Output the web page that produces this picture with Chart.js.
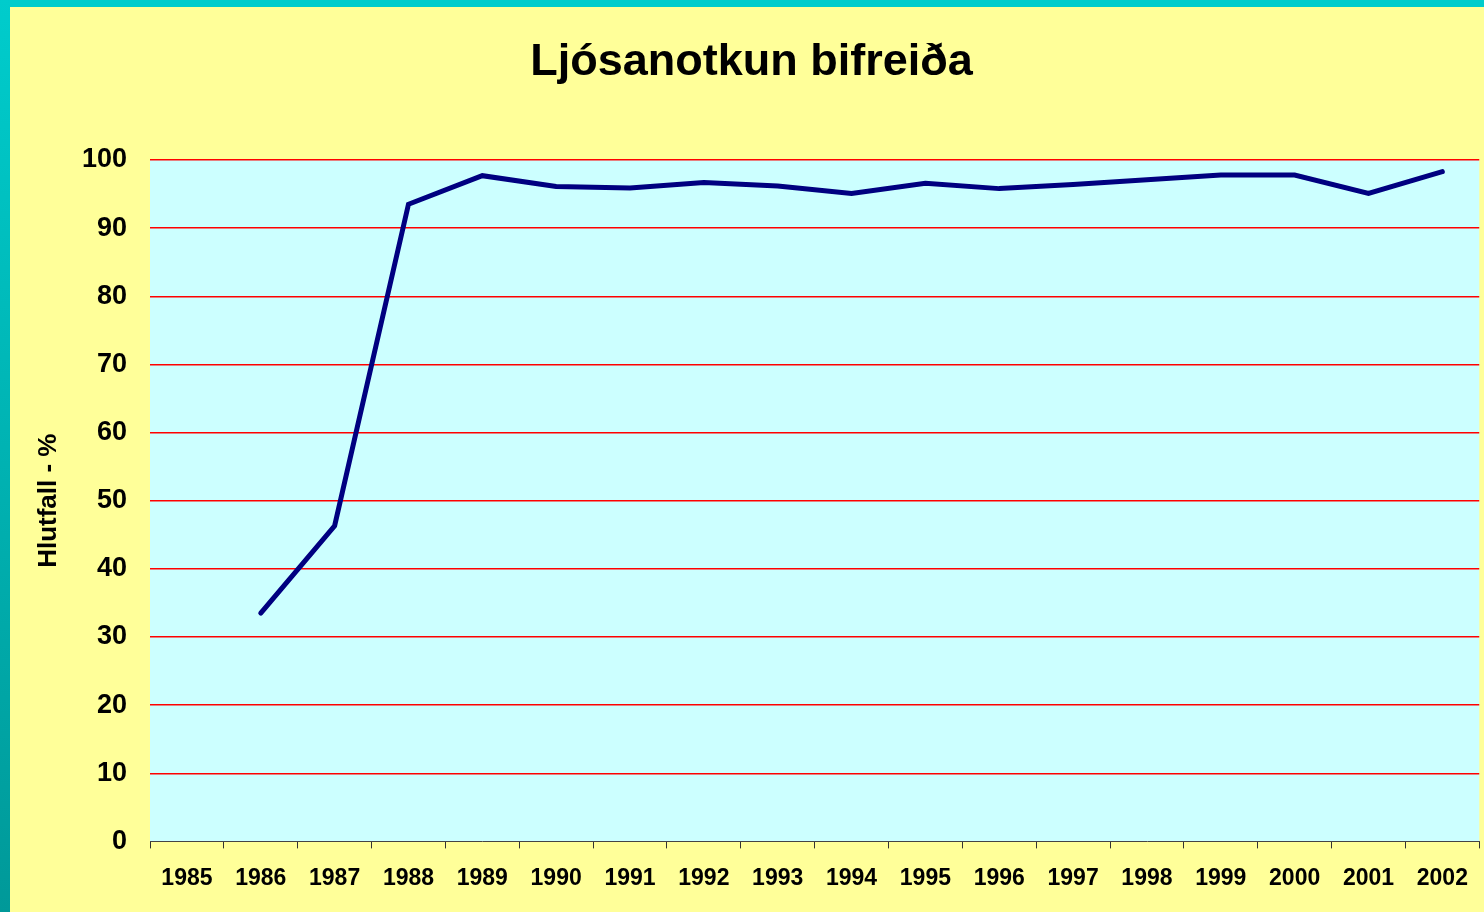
<!DOCTYPE html>
<html>
<head>
<meta charset="utf-8">
<script src="https://cdn.jsdelivr.net/npm/chart.js@4/dist/chart.umd.min.js"></script>
<style>
  html, body { margin: 0; padding: 0; overflow: hidden; }
  #wrap { position: relative; width: 1484px; height: 912px; background: #FFFF99; }
  #topStrip { position: absolute; left: 0; top: 0; width: 1484px; height: 7px; background: #00CCCC; }
  #leftStrip { position: absolute; left: 0; top: 0; width: 10px; height: 912px; background: linear-gradient(#00CCCC, #009999); }
  #c { position: absolute; left: 0; top: 0; }
</style>
</head>
<body>
<div id="wrap">
  <div id="topStrip"></div>
  <div id="leftStrip"></div>
  <canvas id="c" width="1484" height="912"></canvas>
</div>
<script>
const titleText = 'Ljósanotkun bifreiða';
const yAxisTitle = 'Hlutfall - %';
const years = ['1985','1986','1987','1988','1989','1990','1991','1992','1993','1994','1995','1996','1997','1998','1999','2000','2001','2002'];
const shares = [null, 33.5, 46.3, 93.5, 97.7, 96.1, 95.9, 96.7, 96.2, 95.1, 96.6, 95.8, 96.4, 97.1, 97.8, 97.8, 95.1, 98.3];

const FONT = "'Liberation Sans', Arial, sans-serif";

const plotBg = {
  id: 'plotBg',
  beforeDraw(chart) {
    const {ctx, chartArea: a} = chart;
    ctx.save();
    ctx.fillStyle = '#CCFFFF';
    ctx.fillRect(a.left, a.top, a.right - a.left, a.bottom - a.top);
    ctx.restore();
  }
};

new Chart(document.getElementById('c'), {
  type: 'line',
  data: {
    labels: years,
    datasets: [{
      data: shares,
      borderColor: '#000080',
      borderWidth: 5,
      borderCapStyle: 'round',
      borderJoinStyle: 'miter',
      pointRadius: 0,
      pointHoverRadius: 0,
      fill: false,
      tension: 0,
      spanGaps: false
    }]
  },
  options: {
    responsive: false,
    devicePixelRatio: 1,
    animation: false,
    layout: { padding: { left: 22, right: 3, top: 0, bottom: 4 } },
    plugins: {
      legend: { display: false },
      tooltip: { enabled: false },
      title: {
        display: true,
        text: titleText,
        color: '#000',
        font: { family: FONT, size: 45, weight: 'bold', lineHeight: 1.2 },
        padding: { top: 36, bottom: 70 }
      }
    },
    scales: {
      x: {
        type: 'category',
        offset: true,
        grid: {
          offset: true,
          drawOnChartArea: false,
          drawTicks: true,
          tickLength: 7,
          color: '#333',
          lineWidth: 1
        },
        border: { display: true, color: '#444', width: 1 },
        ticks: {
          color: '#000',
          padding: 16,
          maxRotation: 0,
          autoSkip: false,
          font: { family: FONT, size: 23, weight: 'bold', lineHeight: 1.2 }
        }
      },
      y: {
        min: 0,
        max: 100,
        ticks: {
          stepSize: 10,
          color: '#000',
          padding: 23,
          font: { family: FONT, size: 27, weight: 'bold', lineHeight: 1.2 }
        },
        grid: {
          drawTicks: false,
          color: (ctx) => (ctx.tick && ctx.tick.value === 0) ? 'rgba(0,0,0,0)' : '#FF0000',
          lineWidth: 1.5
        },
        border: { display: false },
        title: {
          display: true,
          text: yAxisTitle,
          color: '#000',
          font: { family: FONT, size: 26, weight: 'bold', lineHeight: 1.2 },
          padding: { top: 11, bottom: 0 }
        },
        afterFit(scale) { scale.width = 128; }
      }
    }
  },
  plugins: [plotBg]
});
</script>
</body>
</html>
